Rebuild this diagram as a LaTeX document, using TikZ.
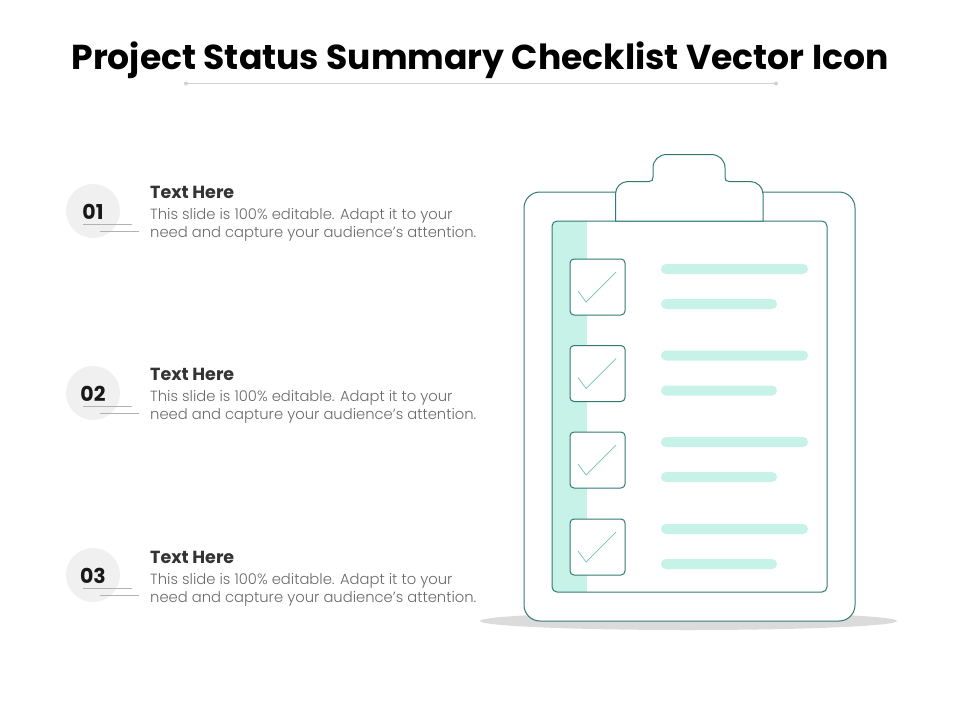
\documentclass[tikz,border=0pt]{standalone}
\usepackage{fontspec}
\setmainfont{Poppins}
\newfontfamily\poplight{Poppins Light}
\definecolor{teal}{HTML}{2F7A72}
\definecolor{mint}{HTML}{C6F2E8}
\definecolor{check}{HTML}{6FC4B3}
\definecolor{bodygray}{HTML}{6A6A6A}
\tikzset{
  x=1pt,y=-1pt,
  outline/.style={draw=teal,line width=1pt,fill=white},
  barfill/.style={fill=mint,rounded corners=5pt,draw=none},
  checkbox/.style={outline,rounded corners=4pt},
  tick/.style={draw=check,line width=0.7pt},
  numdisc/.style={circle,fill=black!6,draw=none,minimum size=54pt,inner sep=0pt},
  numtext/.style={font=\fontsize{20.5}{20}\selectfont\bfseries,text=black!90,inner sep=0pt},
  headtext/.style={anchor=base west,font=\fontsize{17.5}{18}\selectfont\bfseries,text=black!80,inner sep=0pt},
  bodytext/.style={anchor=base west,font=\poplight\fontsize{14.75}{18}\selectfont,text=bodygray,inner sep=0pt},
  thinrule/.style={draw=black!30,line width=0.6pt},
}
\newcommand{\entry}[3]{%
  \node[numdisc] (disc#1) at (93,#2) {};
  \node[numtext] (num#1) at (93,#2+1.2) {#1};
  \coordinate (ra#1) at (83,#2+13);
  \coordinate (rb#1) at (132,#2+13);
  \coordinate (rc#1) at (100,#2+20);
  \coordinate (rd#1) at (139,#2+20);
  \draw[thinrule] (ra#1) -- (rb#1);
  \draw[thinrule] (rc#1) -- (rd#1);
  \node[headtext] (head#1) at (150,#3-13) {Text Here};
  \node[bodytext] (bodya#1) at (150,#3+8) {This slide is 100\% editable. Adapt it to your};
  \node[bodytext] (bodyb#1) at (150,#3+26) {need and capture your audience’s attention.};
}
\newcommand{\row}[2]{%
  \draw[checkbox] (570,#2) rectangle (625,#2+56);
  \coordinate (ta#1) at (578,#2+32);
  \coordinate (tb#1) at (586,#2+43);
  \coordinate (tc#1) at (616,#2+13);
  \draw[tick] (ta#1) -- (tb#1) -- (tc#1);
  \fill[barfill] (661,#2+5) rectangle (808,#2+15);
  \fill[barfill] (661,#2+40) rectangle (777,#2+50);
}
\begin{document}
\begin{tikzpicture}
\useasboundingbox (0,0) rectangle (960,720);
\node[anchor=base,font=\fontsize{34.6}{36}\selectfont\bfseries,text=black,inner sep=0pt] (title) at (480,69) {Project Status Summary Checklist Vector Icon};
\coordinate (dl) at (186,83.5);
\coordinate (dr) at (776,83.5);
\draw[draw=black!18,line width=0.9pt] (dl) -- (dr);
\fill[black!18] (dl) circle (2pt) (dr) circle (2pt);
\entry{01}{211}{211}
\entry{02}{393}{393}
\entry{03}{575}{576}
% clipboard
\fill[black!14] (688.5,621) ellipse (208.5 and 9);
\draw[outline,rounded corners=16pt] (524,192) rectangle (855,621);
\begin{scope}
\clip[rounded corners=5pt] (552,221) rectangle (827,592);
\fill[mint] (552,221) rectangle (587,592);
\end{scope}
\draw[draw=teal,line width=1pt,rounded corners=5pt] (552,221) rectangle (827,592);
\draw[outline] (615.5,221) -- (615.5,194) .. controls (615.5,187) and (621,181.5) .. (628,181.5)
  -- (649,181.5) .. controls (652,181.5) and (653,180) .. (653,177)
  -- (653,168) .. controls (653,160) and (659,154.5) .. (667,154.5)
  -- (711,154.5) .. controls (719,154.5) and (725,160) .. (725,168)
  -- (725,177) .. controls (725,180) and (726,181.5) .. (729,181.5)
  -- (750,181.5) .. controls (757,181.5) and (763,187) .. (763,194)
  -- (763,221) -- cycle;
\row{a}{259}
\row{b}{345.5}
\row{c}{432}
\row{d}{519}
\end{tikzpicture}
\end{document}
